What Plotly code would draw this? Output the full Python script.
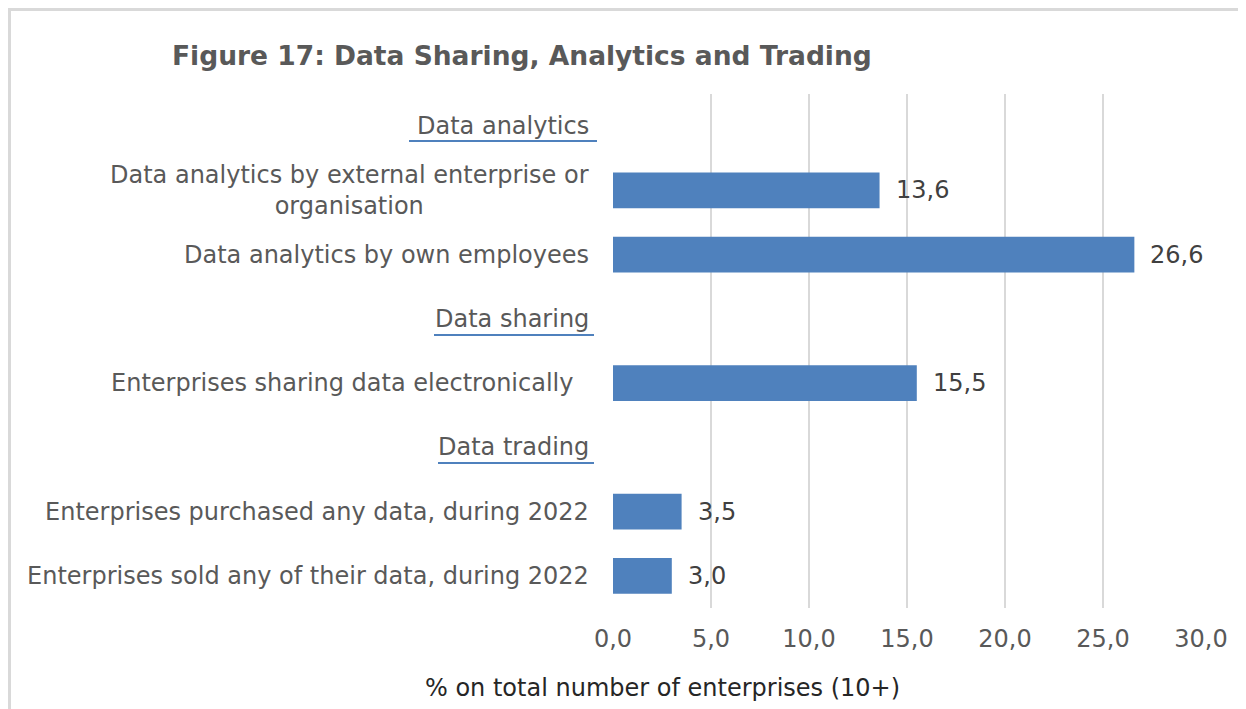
import plotly.graph_objects as go

categories = [
    "Data analytics",
    "Data analytics by external enterprise or<br>organisation",
    "Data analytics by own employees",
    "Data sharing",
    "Enterprises sharing data electronically\u00a0\u00a0",
    "Data trading",
    "Enterprises purchased any data, during 2022",
    "Enterprises sold any of their data, during 2022",
]
is_header = [True, False, False, True, False, True, False, False]
values = [None, 13.6, 26.6, None, 15.5, None, 3.5, 3.0]
x_ticks = [0, 5, 10, 15, 20, 25, 30]

OFF = 8  # page body margin
W, H = 1246 - OFF, 709 - OFF
L, R, T, B = 613, 1201, 94, 608  # plot area in reference pixels


def px(x):
    return (x - L) / (R - L)


def py(y):
    return (B - y) / (B - T)


ids = list(range(len(categories)))
bar_x = [v if v is not None else 0 for v in values]

fig = go.Figure()
fig.add_trace(go.Bar(
    y=ids, x=bar_x, orientation="h", width=0.56,
    marker=dict(color="#4F81BD", line=dict(width=0)),
    hoverinfo="skip",
))

annotations = []
shapes = []
gray = "#595959"
font = "DejaVu Sans"
FS = 24

for i, (c, v, h) in enumerate(zip(categories, values, is_header)):
    annotations.append(dict(
        x=px(591), xref="paper", y=i, yref="y", text=c, showarrow=False,
        xanchor="right", yanchor="middle", align="center",
        font=dict(family=font, size=FS, color=gray),
    ))
    if v is not None:
        annotations.append(dict(
            x=v, xref="x", y=i, yref="y", text=f"{v:.1f}".replace(".", ","),
            showarrow=False, xanchor="left", yanchor="middle", xshift=14,
            font=dict(family=font, size=FS, color="#404040"),
        ))

underlines = [(409, 597, 141), (434, 594, 335), (438, 594, 463)]
for x0, x1, y in underlines:
    shapes.append(dict(type="line", xref="paper", yref="paper",
                       x0=px(x0), x1=px(x1), y0=py(y), y1=py(y),
                       line=dict(color="#4F81BD", width=2)))

# outer chart border (as close to the page edge as the body margin allows)
shapes.append(dict(type="rect", xref="paper", yref="paper",
                   x0=px(OFF + 1.5), x1=px(1244), y0=py(OFF + 1.5), y1=py(760),
                   line=dict(color="#D9D9D9", width=3), layer="below"))

annotations.append(dict(
    x=px(170), xref="paper", y=py(55), yref="paper",
    text="<b>Figure 17: Data Sharing, Analytics and Trading</b>",
    showarrow=False, xanchor="left", yanchor="middle",
    font=dict(family=font, size=26.5, color=gray),
))
annotations.append(dict(
    x=px(662), xref="paper", y=py(688), yref="paper",
    text="% on total number of enterprises (10+)",
    showarrow=False, xanchor="center", yanchor="middle",
    font=dict(family=font, size=FS, color="#262626"),
))

fig.update_layout(
    width=W, height=H,
    margin=dict(l=L - OFF, r=W - (R - OFF), t=T - OFF, b=H - (B - OFF), pad=0),
    paper_bgcolor="white", plot_bgcolor="white",
    separators=",.",
    showlegend=False,
    xaxis=dict(range=[0, 30], tickvals=x_ticks, tickformat=".1f",
               showgrid=True, gridcolor="#D9D9D9", gridwidth=2,
               zeroline=False, showline=False, ticks="",
               ticklabelstandoff=14,
               tickfont=dict(family=font, size=FS, color=gray),
               fixedrange=True),
    yaxis=dict(range=[len(categories) - 0.5, -0.5], showticklabels=False,
               showgrid=False, zeroline=False, showline=False, ticks="",
               fixedrange=True),
    annotations=annotations,
    shapes=shapes,
)
fig.write_html("out.html")
